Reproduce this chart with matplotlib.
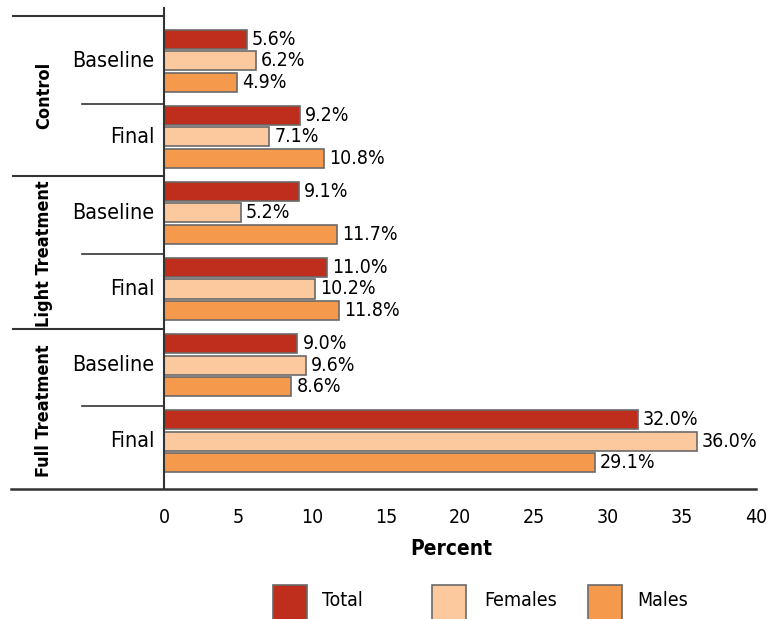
import matplotlib.pyplot as plt
from matplotlib.patches import Rectangle
import numpy as np

# --- DATA ---
groups = ['Control', 'Light Treatment', 'Full Treatment']
phases = ['Baseline', 'Final']
series = ['Total', 'Females', 'Males']
total = [5.6, 9.2, 9.1, 11.0, 9.0, 32.0]
females = [6.2, 7.1, 5.2, 10.2, 9.6, 36.0]
males = [4.9, 10.8, 11.7, 11.8, 8.6, 29.1]

colors = ['#BF2E1C', '#FBC99D', '#F5994C']
plt.rcParams['font.family'] = ['DejaVu Sans']
plt.rcParams['font.stretch'] = 'condensed'

W, H = 777, 619
fig = plt.figure(figsize=(W / 100, H / 100), dpi=100)
ax = fig.add_axes([164 / W, 1 - 489 / H, 592 / W, (489 - 8) / H])

rows = np.arange(6)
off = 0.283
h = 0.25
for i, (vals, c) in enumerate(zip([total, females, males], colors)):
    ypos = rows + (i - 1) * off
    ax.barh(ypos, vals, height=h, color=c, edgecolor='#6a6a6a', linewidth=1.2)
    for y, v in zip(ypos, vals):
        ax.text(v + 0.35, y, f'{v:.1f}%', va='center', ha='left', fontsize=14)

ax.set_xlim(0, 40)
ax.set_ylim(5.63, -0.695)
ax.set_xticks(range(0, 41, 5))
ax.tick_params(axis='x', length=0, pad=14, labelsize=14)
ax.set_yticks([])
ax.spines['top'].set_visible(False)
ax.spines['right'].set_visible(False)
ax.spines['left'].set_color('#333333')
ax.spines['left'].set_linewidth(1.5)
ax.spines['bottom'].set_visible(False)
ax.set_xlabel('Percent', fontsize=15, fontweight='bold')
ax.xaxis.set_label_coords(0.485, -0.103)

# --- SEPARATOR LINES ---
tr = ax.get_yaxis_transform()
for y in [-0.59, 1.51, 3.53]:
    ax.plot([-0.255, 0], [y, y], transform=tr, color='#333333', lw=1.5, clip_on=False)
ax.plot([-0.258, 1], [5.63, 5.63], transform=tr, color='#333333', lw=1.8, clip_on=False)
for y in [0.566, 2.54, 4.54]:
    ax.plot([-0.139, 0], [y, y], transform=tr, color='#333333', lw=1.2, clip_on=False)

# --- CATEGORY LABELS ---
for r in rows:
    ax.text(-0.016, r, phases[r % 2], transform=tr, ha='right', va='center', fontsize=15.5)
for g, yc in zip(groups, [0.46, 2.53, 4.6]):
    ax.text(-0.203, yc, g, transform=tr, ha='center', va='center', rotation=90,
            fontsize=13, fontweight='bold')

# --- LEGEND (drawn by hand to match spacing) ---
patch_x = [273, 432, 588]
text_x = [322, 484, 637]
for px, tx, c, s in zip(patch_x, text_x, colors, series):
    fig.patches.append(Rectangle((px / W, (H - 621) / H), 34 / W, 36 / H,
                                 transform=fig.transFigure, facecolor=c,
                                 edgecolor='#6a6a6a', linewidth=1.2))
    fig.text(tx / W, 1 - 601 / H, s, ha='left', va='center', fontsize=14)

fig.savefig('out.png', dpi=100)
